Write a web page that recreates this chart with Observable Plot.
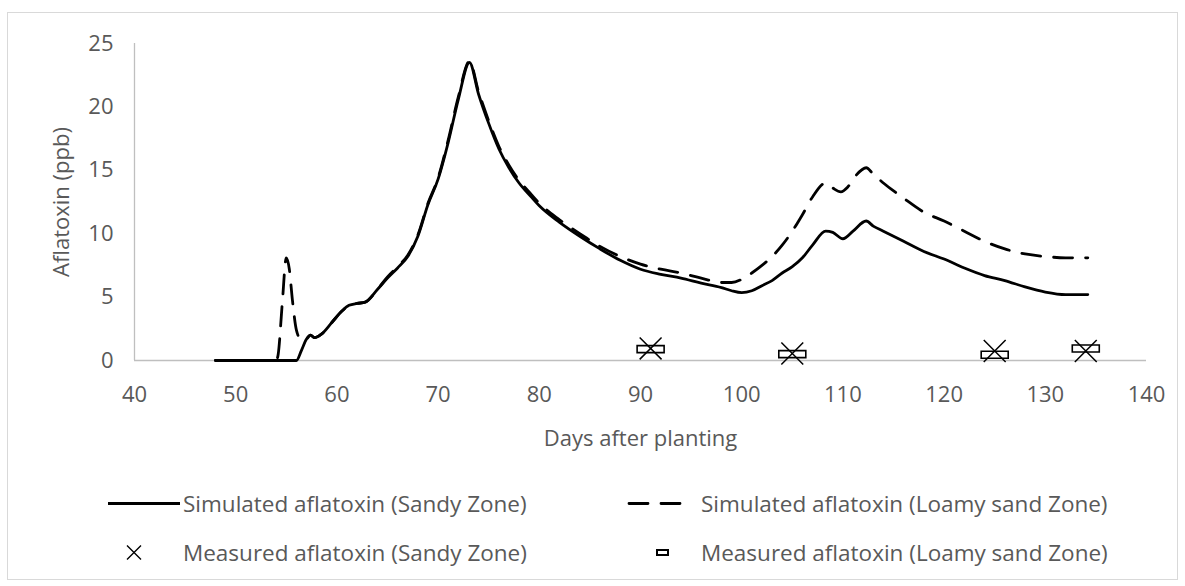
<!DOCTYPE html>
<html>
<head>
<meta charset="utf-8">
<script src="https://cdn.jsdelivr.net/npm/d3@7"></script>
<script src="https://cdn.jsdelivr.net/npm/@observablehq/plot@0.6"></script>
<style>
  html, body { margin: 0; padding: 0; background: #fff; }
  body { width: 1185px; height: 586px; position: relative; overflow: hidden; font-family: "Open Sans", sans-serif; }
  #frame { position: absolute; left: 7px; top: 12px; width: 1171px; height: 568px; border: 1px solid #d9d9d9; box-sizing: border-box; pointer-events: none; }
  #chart { position: absolute; left: 0; top: 0; }
  .leg { position: absolute; display: flex; align-items: center; color: #595959; font-size: 22.5px; white-space: nowrap; transform: translateY(-50%); }
</style>
</head>
<body>
<div id="frame"></div>
<div id="chart"></div>
<div id="legend"></div>
<script>
// ---- data ----
const xTicks = [40, 50, 60, 70, 80, 90, 100, 110, 120, 130, 140];
const yTicks = [0, 5, 10, 15, 20, 25];

const sandyDays = [48, 50, 52, 54, 56, 56.5, 57, 57.4, 57.8, 58.5, 59.5, 60.5, 61.2, 62, 62.8, 64, 65, 66, 67, 68, 69, 70, 71, 72, 73.1, 74, 75, 76, 77, 78, 79.2, 80, 82, 84, 86, 88, 90, 92, 94, 96, 98, 99, 100, 101, 102, 103, 104, 105, 106, 107, 108.3, 109, 110, 111, 112.3, 113, 114, 116, 118, 120, 122, 124, 126, 128, 130, 132, 134.2];
const sandyValues = [0, 0, 0, 0, 0, 0.8, 1.7, 2.0, 1.8, 2.1, 3.0, 3.9, 4.35, 4.5, 4.6, 5.6, 6.5, 7.3, 8.2, 9.8, 12.3, 14.3, 17.2, 20.6, 23.5, 21.0, 18.7, 16.7, 15.2, 14.0, 12.9, 12.2, 10.9, 9.8, 8.8, 7.9, 7.2, 6.8, 6.5, 6.1, 5.75, 5.5, 5.35, 5.5, 5.9, 6.3, 6.9, 7.4, 8.1, 9.1, 10.2, 10.1, 9.6, 10.2, 11.0, 10.6, 10.2, 9.4, 8.6, 8.0, 7.3, 6.7, 6.3, 5.8, 5.4, 5.2, 5.2];

const loamyDays = [48, 50, 52, 54, 54.2, 54.6, 55.0, 55.3, 55.6, 56.0, 56.5, 57, 57.4, 57.8, 58.5, 59.5, 60.5, 61.2, 62, 62.8, 64, 65, 66, 67, 68, 69, 70, 71, 72, 73.1, 74, 75, 76, 77, 78, 79.2, 80, 82, 84, 86, 88, 90, 92, 94, 96, 98, 99, 100, 101, 102, 103, 104, 105, 106, 107, 108.3, 109, 109.8, 110.5, 111.3, 112.3, 113, 114, 116, 118, 120, 122, 124, 126, 128, 130, 132, 134.2];
const loamyValues = [0, 0, 0, 0, 0.5, 4.5, 8.1, 7.2, 4.8, 2.4, 1.6, 1.7, 2.0, 1.8, 2.1, 3.0, 3.9, 4.35, 4.5, 4.6, 5.6, 6.6, 7.4, 8.3, 9.9, 12.4, 14.4, 17.4, 20.8, 23.6, 21.2, 18.9, 16.9, 15.4, 14.2, 13.1, 12.4, 11.1, 10.0, 9.0, 8.2, 7.6, 7.2, 6.9, 6.5, 6.15, 6.15, 6.4, 6.9, 7.5, 8.2, 9.1, 10.2, 11.5, 12.9, 14.0, 13.6, 13.3, 13.7, 14.6, 15.2, 14.7, 14.0, 12.8, 11.7, 11.0, 10.2, 9.4, 8.8, 8.4, 8.2, 8.1, 8.1];

const measuredDays = [91, 105, 125, 134];
const measuredSandy = [0.95, 0.55, 0.75, 0.75];
const measuredLoamy = [0.9, 0.5, 0.45, 0.95];

const seriesNames = [
  "Simulated aflatoxin (Sandy Zone)",
  "Simulated aflatoxin (Loamy sand Zone)",
  "Measured aflatoxin (Sandy Zone)",
  "Measured aflatoxin (Loamy sand Zone)"
];
const xTitle = "Days after planting";
const yTitle = "Aflatoxin (ppb)";

// ---- tables ----
const sandy = sandyDays.map((d, i) => ({day: d, value: sandyValues[i]}));
const loamy = loamyDays.map((d, i) => ({day: d, value: loamyValues[i]}));
const mSandy = measuredDays.map((d, i) => ({day: d, value: measuredSandy[i]}));
const mLoamy = measuredDays.map((d, i) => ({day: d, value: measuredLoamy[i]}));

const barSymbol = { draw(ctx) { ctx.moveTo(-13.5, -3.5); ctx.lineTo(13.5, -3.5); ctx.lineTo(13.5, 3.5); ctx.lineTo(-13.5, 3.5); ctx.closePath(); } };

const DASH = "19,13";
const chart = Plot.plot({
  width: 1185,
  height: 470,
  marginLeft: 134,
  marginRight: 39,
  marginTop: 43,
  marginBottom: 110,
  style: { fontFamily: "Open Sans", fontSize: "22px", color: "#595959", background: "transparent", overflow: "visible" },
  x: { domain: [40, 140], ticks: xTicks, tickSize: 0, tickPadding: 26, label: null },
  y: { domain: [0, 25], ticks: yTicks, tickSize: 0, tickPadding: 21, label: null },
  marks: [
    Plot.ruleY([0], { stroke: "#bfbfbf", strokeWidth: 1.3 }),
    Plot.ruleX([40], { stroke: "#bfbfbf", strokeWidth: 1.3 }),
    Plot.line(sandy, { x: "day", y: "value", curve: "monotone-x", stroke: "#000", strokeWidth: 2.8 }),
    Plot.line(loamy, { x: "day", y: "value", curve: "monotone-x", stroke: "#000", strokeWidth: 2.8, strokeDasharray: DASH, strokeLinecap: "round" }),
    Plot.dot(mLoamy, { x: "day", y: "value", symbol: barSymbol, r: 10, fill: "#fff", stroke: "#000", strokeWidth: 1.6 }),
    Plot.dot(mSandy, { x: "day", y: "value", symbol: "times", r: 10, stroke: "#000", strokeWidth: 1.5 }),
    Plot.text([xTitle], { frameAnchor: "bottom", textAnchor: "middle", lineAnchor: "middle", dy: 78, fill: "#595959", fontSize: 22 }),
    Plot.text([yTitle], { frameAnchor: "left", textAnchor: "middle", lineAnchor: "middle", dx: -73, rotate: -90, fill: "#595959", fontSize: 22 })
  ]
});
document.getElementById("chart").appendChild(chart);

// ---- legend (below the plot) ----
const legend = document.getElementById("legend");
function item(left, top, svgInner, svgW, name) {
  const div = document.createElement("div");
  div.className = "leg";
  div.style.left = left + "px";
  div.style.top = top + "px";
  div.innerHTML = `<svg width="${svgW}" height="24" style="margin-right:3px;overflow:visible">${svgInner}</svg><span>${name}</span>`;
  legend.appendChild(div);
}
item(108, 503, `<line x1="0" y1="12" x2="72" y2="12" stroke="#000" stroke-width="2.8"/>`, 72, seriesNames[0]);
item(627, 503, `<line x1="2" y1="12" x2="60" y2="12" stroke="#000" stroke-width="2.8" stroke-dasharray="19,13" stroke-linecap="round"/>`, 71, seriesNames[1]);
item(126, 552, `<path d="M1,5 L15,19 M1,19 L15,5" stroke="#000" stroke-width="1.4" fill="none"/>`, 54, seriesNames[2]);
item(656, 552, `<rect x="1" y="9.5" width="11" height="5" fill="#fff" stroke="#000" stroke-width="2"/>`, 42, seriesNames[3]);
</script>
</body>
</html>
